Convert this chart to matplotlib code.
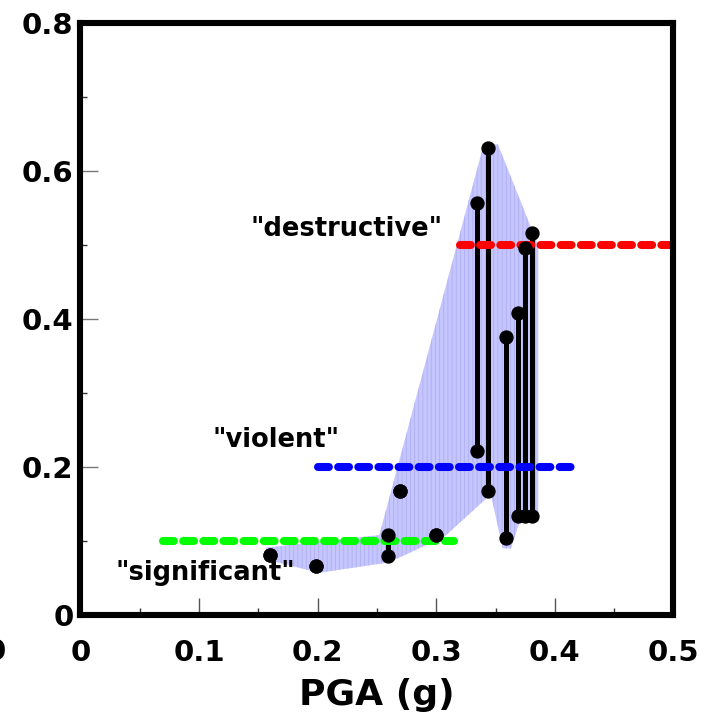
import matplotlib
matplotlib.use("Agg")
from matplotlib import pyplot as plt

# observed sites: PGA and the range of the damage index at each site
pga = [0.160, 0.199, 0.259, 0.269, 0.300, 0.334, 0.344, 0.359, 0.369, 0.375, 0.381]
index_low = [0.081, 0.066, 0.080, 0.168, 0.108, 0.222, 0.168, 0.104, 0.134, 0.134, 0.134]
index_high = [0.081, 0.066, 0.108, 0.168, 0.108, 0.557, 0.631, 0.376, 0.408, 0.496, 0.516]

# envelope around the observations
env_x = [0.156, 0.252, 0.340, 0.352, 0.386, 0.386, 0.370, 0.363, 0.356, 0.346, 0.307, 0.260, 0.201, 0.157]
env_y = [0.091, 0.108, 0.636, 0.636, 0.499, 0.126, 0.125, 0.090, 0.090, 0.163, 0.106, 0.071, 0.057, 0.075]

# damage thresholds: label, level, x start, x end, colour
thr_labels = ['"significant"', '"violent"', '"destructive"']
thr_levels = [0.10, 0.20, 0.50]
thr_start = [0.07, 0.20, 0.32]
thr_end = [0.315, 0.42, 0.50]
thr_colors = ["#00ff00", "#0000ff", "#ff0000"]
thr_text_pos = [(0.105, 0.057), (0.165, 0.236), (0.224, 0.521)]

plt.rcParams["hatch.linewidth"] = 0.6
plt.rcParams["hatch.color"] = "#aeaef2"

fig = plt.figure(figsize=(7.16, 7.25), dpi=100)
ax = fig.add_axes([0.1124, 0.1517, 0.8282, 0.8166])

ax.fill(env_x, env_y, facecolor="#c6c6ff", hatch="||||", linewidth=0, zorder=1)

for i in range(len(pga)):
    if index_high[i] > index_low[i]:
        ax.plot([pga[i], pga[i]], [index_low[i], index_high[i]], color="black", lw=3.6, zorder=2)

for lvl, x0, x1, col in zip(thr_levels, thr_start, thr_end, thr_colors):
    ln, = ax.plot([x0, x1], [lvl, lvl], color=col, lw=5.8, zorder=3)
    ln.set_dashes([1.35, 1.15])
    ln.set_dash_capstyle("round")

ax.plot(pga, index_low, "o", color="black", ms=9.3, zorder=4)
ax.plot(pga, index_high, "o", color="black", ms=9.3, zorder=4)

for lab, (tx, ty) in zip(thr_labels, thr_text_pos):
    ax.text(tx, ty, lab, fontsize=18.5, fontweight="bold", ha="center", va="center", zorder=5)

ax.set_xlim(0, 0.5)
ax.set_ylim(0, 0.8)
ax.set_xticks([0, 0.1, 0.2, 0.3, 0.4, 0.5])
ax.set_xticklabels(["0", "0.1", "0.2", "0.3", "0.4", "0.5"])
ax.set_xticks([0.05, 0.15, 0.25, 0.35, 0.45], minor=True)
ax.set_yticks([0, 0.2, 0.4, 0.6, 0.8])
ax.set_yticklabels(["0", "0.2", "0.4", "0.6", "0.8"])
ax.set_yticks([0.1, 0.3, 0.5, 0.7], minor=True)

ax.tick_params(axis="x", which="major", direction="in", length=12, width=1, color="#555555", pad=17, labelsize=21)
ax.tick_params(axis="x", which="minor", direction="in", length=5, width=1, color="#333333")
ax.tick_params(axis="y", which="major", direction="in", length=13, width=1, color="#777777", pad=5, labelsize=21)
ax.tick_params(axis="y", which="minor", direction="in", length=5, width=1, color="#333333")
for lab in ax.get_xticklabels() + ax.get_yticklabels():
    lab.set_fontweight("bold")

for sp in ax.spines.values():
    sp.set_linewidth(4.4)
    sp.set_zorder(6)

ax.set_xlabel("PGA (g)", fontsize=26, fontweight="bold", labelpad=8)

# edge of a neighbouring label cut off by the page
fig.text(-0.0056, 0.1007, "0", fontsize=21, fontweight="bold", ha="center", va="center")

fig.savefig("out.png", dpi=100)
